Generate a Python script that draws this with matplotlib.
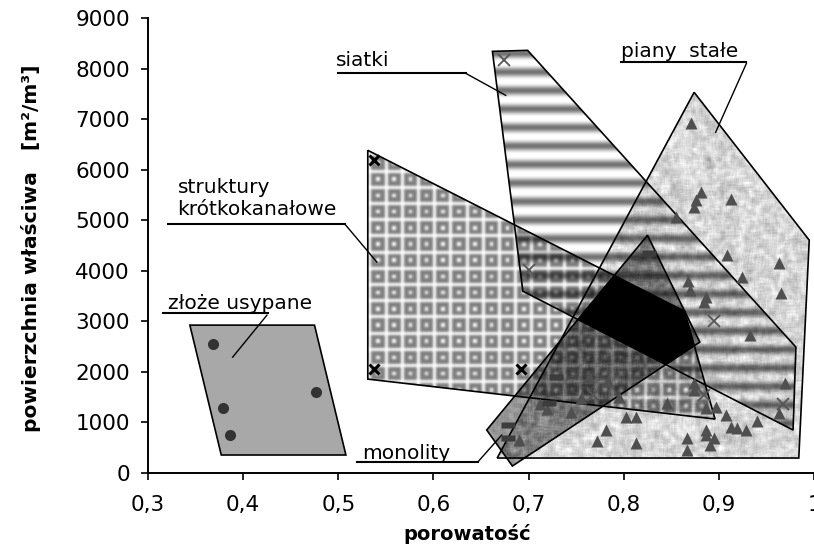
import numpy as np
import matplotlib
matplotlib.use('Agg')
import matplotlib.pyplot as plt
from matplotlib.path import Path
from matplotlib.patches import Polygon
from matplotlib.ticker import FuncFormatter, MultipleLocator

plt.rcParams['font.family'] = ['DejaVu Sans']

# obszary (porowatosc, powierzchnia wlasciwa m2/m3)
zloze_x = [0.344, 0.475, 0.508, 0.377]
zloze_y = [2925, 2925, 356, 356]
struktury_x = [0.531, 0.864, 0.896, 0.531]
struktury_y = [6383, 3200, 1067, 1857]
siatki_x = [0.662, 0.699, 0.981, 0.978, 0.694]
siatki_y = [8340, 8360, 2490, 850, 3596]
piany_x = [0.874, 0.995, 0.984, 0.667]
piany_y = [7530, 4605, 296, 296]
monolity_x = [0.656, 0.825, 0.880, 0.683]
monolity_y = [850, 4703, 2589, 138]

# punkty pomiarowe
zloze_px = [0.368, 0.379, 0.386, 0.477]
zloze_py = [2550, 1285, 750, 1600]
struktury_px = [0.538, 0.538, 0.692]
struktury_py = [6186, 2055, 2055]
siatki_px = [0.674, 0.700, 0.895, 0.967, 0.768, 0.884]
siatki_py = [8162, 4012, 3004, 1364, 1541, 1541]
monolity_px = [0.678, 0.678, 0.729, 0.721, 0.827]
monolity_py = [949, 692, 1897, 1383, 4348]
piany_px = [0.871, 0.881, 0.876, 0.874, 0.913, 0.855, 0.909, 0.963, 0.924, 0.868,
            0.870, 0.965, 0.886, 0.884, 0.933, 0.969, 0.963, 0.763, 0.784, 0.755,
            0.712, 0.719, 0.745, 0.795, 0.845, 0.874, 0.874, 0.886, 0.897, 0.908,
            0.802, 0.813, 0.913, 0.919, 0.929, 0.940, 0.886, 0.887, 0.895, 0.891,
            0.866, 0.866, 0.781, 0.772, 0.813, 0.690]
piany_py = [6917, 5553, 5395, 5257, 5415, 5059, 4308, 4150, 3874, 3794,
            3617, 3557, 3478, 3379, 2727, 1779, 1186, 1897, 1818, 1482,
            1364, 1265, 1206, 1502, 1383, 1779, 1640, 1285, 1304, 1146,
            1107, 1107, 909, 889, 850, 1028, 850, 751, 692, 553,
            692, 455, 850, 632, 593, 652]

fig = plt.figure(figsize=(8.14, 5.5), dpi=100)
ax = fig.add_axes([148 / 814, 77 / 550, 666 / 814, 455 / 550])

# raster z teksturami (mnozenie warstw)
W, H = 666, 455
X, Y = np.meshgrid(np.arange(W) + 148.5, np.arange(H) + 18.5)
gx = 0.3 + (X - 148) / W * 0.7
gy = 9000 - (Y - 18) / H * 9000
grid = np.column_stack([gx.ravel(), gy.ravel()])


def mask(xs, ys):
    return Path(np.column_stack([xs, ys])).contains_points(grid).reshape(H, W)


def blur(a, r):
    out = np.zeros_like(a)
    n = 0
    for i in range(-r, r + 1):
        for j in range(-r, r + 1):
            out += np.roll(np.roll(a, i, 0), j, 1)
            n += 1
    return out / n


rng = np.random.default_rng(7)
noise = blur(rng.random((H, W)), 2)
noise = (noise - noise.mean()) / noise.std()
noise2 = blur(rng.random((H, W)), 4)
noise2 = (noise2 - noise2.mean()) / noise2.std()

piany_tex = np.clip(0.84 + 0.04 * noise + 0.03 * noise2, 0, 1)
stripe = 0.5 + 0.5 * np.cos(2 * np.pi * (Y - 72) / 18.5)
siatki_tex = 1 - 0.55 * stripe ** 1.5
P = 16.2
u = ((X - 378 + P / 2) % P) - P / 2
v = ((Y - 163 + P / 2) % P) - P / 2
d = np.maximum(np.abs(u), np.abs(v))
ring = ((d > 1.8) & (d < 6.6)).astype(float)
struktury_tex = 1 - 0.5 * blur(blur(ring, 1), 1)
monolity_tex = 0.58 + 0.03 * noise

m_z = mask(zloze_x, zloze_y)
m_p = mask(piany_x, piany_y)
m_s = mask(siatki_x, siatki_y)
m_k = mask(struktury_x, struktury_y)
m_m = mask(monolity_x, monolity_y)

img = np.ones((H, W))
img = np.where(m_z, 0.66, img)
img = np.where(m_p, img * piany_tex, img)
img = np.where(m_s, img * siatki_tex, img)
img = np.where(m_k, img * struktury_tex, img)
img = np.where(m_m, img * monolity_tex, img)
img[m_p & m_s & m_k & m_m] = 0.0

ax.imshow(img, cmap='gray', vmin=0, vmax=1, extent=[0.3, 1.0, 0, 9000],
          origin='upper', aspect='auto', interpolation='nearest', zorder=0)

for xs, ys in [(zloze_x, zloze_y), (struktury_x, struktury_y), (siatki_x, siatki_y),
               (piany_x, piany_y), (monolity_x, monolity_y)]:
    ax.add_patch(Polygon(np.column_stack([xs, ys]), closed=True, fill=False,
                         edgecolor='black', lw=1.2, zorder=2))

ax.plot(zloze_px, zloze_py, 'o', color='#333333', ms=8, mec='none', zorder=3)
ax.plot(piany_px, piany_py, '^', color='#4f4f4f', ms=8.5, mec='none', zorder=3)
ax.plot(siatki_px, siatki_py, 'x', color='#555555', ms=8, mew=1.3, zorder=3)
ax.plot(struktury_px, struktury_py, 'x', color='black', ms=6.5, mew=2.2, zorder=3)
dash = [(-1, -0.4), (1, -0.4), (1, 0.4), (-1, 0.4), (-1, -0.4)]
ax.plot(monolity_px, monolity_py, ls='none', marker=dash, color='#3c3c3c', ms=10,
        mec='none', zorder=3)

# opisy obszarow
fs = 14.5
ax.text(0.4975, 8043, 'siatki', fontsize=fs, ha='left', va='baseline')
ax.plot([0.4996, 0.634], [7905, 7905], color='k', lw=1.5)
ax.plot([0.634, 0.676], [7905, 7470], color='k', lw=1.0)

ax.text(0.7968, 8221, 'piany  stałe', fontsize=fs, ha='left', va='baseline')
ax.plot([0.7968, 0.929], [8129, 8129], color='k', lw=1.5)
ax.plot([0.929, 0.8966], [8103, 6739], color='k', lw=1.0)

ax.text(0.331, 5530, 'struktury', fontsize=fs, ha='left', va='baseline')
ax.text(0.331, 5100, 'krótkokanałowe', fontsize=fs, ha='left', va='baseline')
ax.plot([0.321, 0.507], [4921, 4921], color='k', lw=1.5, clip_on=False)
ax.plot([0.507, 0.5406], [4921, 4170], color='k', lw=1.0)

ax.text(0.3210, 3241, 'złoże usypane', fontsize=fs, ha='left', va='baseline')
ax.plot([0.3158, 0.426], [3162, 3162], color='k', lw=1.5)
ax.plot([0.425, 0.389], [3122, 2292], color='k', lw=1.0)

ax.text(0.5248, 277, 'monolity', fontsize=fs, ha='left', va='baseline')
ax.plot([0.5195, 0.6466], [217, 217], color='k', lw=1.5)
ax.plot([0.6466, 0.6718], [217, 751], color='k', lw=1.0)

ax.set_xlim(0.3, 1.0)
ax.set_ylim(0, 9000)
ax.xaxis.set_major_locator(MultipleLocator(0.1))
ax.yaxis.set_major_locator(MultipleLocator(1000))
ax.xaxis.set_major_formatter(FuncFormatter(
    lambda v, p: '1' if abs(v - 1) < 1e-6 else f'{v:.1f}'.replace('.', ',')))
for s in ['top', 'right']:
    ax.spines[s].set_visible(False)
for s in ['left', 'bottom']:
    ax.spines[s].set_linewidth(1.4)
ax.tick_params(direction='out', length=5, width=1.2, labelsize=15.5)
ax.tick_params(axis='y', pad=8)
ax.tick_params(axis='x', pad=11)

ax.text(0.479, -0.147, 'porowatość', transform=ax.transAxes, fontsize=14,
        fontweight='bold', ha='center', va='baseline')
ax.text(-0.1667, 0.494, 'powierzchnia właściwa   [m²/m³]', transform=ax.transAxes,
        fontsize=14.5, fontweight='bold', rotation=90, rotation_mode='anchor',
        ha='center', va='baseline')

fig.savefig('out.png', dpi=100)
